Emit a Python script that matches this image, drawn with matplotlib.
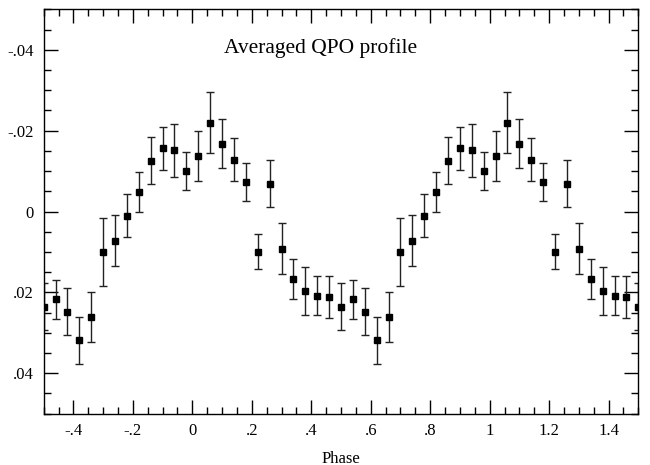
import numpy as np
import matplotlib
matplotlib.use("Agg")
import matplotlib.pyplot as plt
from matplotlib.ticker import MultipleLocator, FuncFormatter

# One cycle of the averaged profile (25 phase bins, centres 0.02 + 0.04k, starting at phase 0.50-1)
phase_cycle = [-0.50, -0.46, -0.42, -0.38, -0.34, -0.30, -0.26, -0.22, -0.18, -0.14,
               -0.10, -0.06, -0.02, 0.02, 0.06, 0.10, 0.14, 0.18, 0.22, 0.26,
               0.30, 0.34, 0.38, 0.42, 0.46]
profile = [0.0235, 0.0217, 0.0248, 0.0318, 0.0261, 0.0100, 0.0072, 0.0010, -0.0049, -0.0126,
           -0.0156, -0.0151, -0.0100, -0.0138, -0.0220, -0.0168, -0.0128, -0.0074, 0.0099, -0.0069,
           0.0092, 0.0167, 0.0196, 0.0208, 0.0211]
errors = [0.0058, 0.0048, 0.0058, 0.0058, 0.0062, 0.0084, 0.0063, 0.0053, 0.0049, 0.0059,
          0.0053, 0.0065, 0.0047, 0.0062, 0.0075, 0.0061, 0.0053, 0.0047, 0.0044, 0.0059,
          0.0063, 0.0049, 0.0060, 0.0048, 0.0052]
n_cycles_shift = [0, 1, 2]

title_text = "Averaged QPO profile"
xlabel_text = "Phase"

plt.rcParams['font.family'] = ['Liberation Serif', 'DejaVu Serif']

fig = plt.figure(figsize=(6.5, 4.65), dpi=100)
ax = fig.add_axes([0.0672, 0.1103, 0.9148, 0.8697])

xs, ys, es = [], [], []
for c in n_cycles_shift:
    for p, v, e in zip(phase_cycle, profile, errors):
        xs.append(p + c)
        ys.append(v)
        es.append(e)

ax.errorbar(xs, ys, yerr=es, fmt='s', color='black', ms=4.3, ecolor='#222222',
            elinewidth=1.0, capsize=3.0, capthick=1.0, clip_on=True)

ax.set_xlim(-0.5, 1.5)
ax.set_ylim(0.05, -0.05)

def xfmt(v, pos):
    if abs(v) < 1e-9:
        return "0"
    s = ("%.1f" % v)
    if s.startswith("0."):
        s = s[1:]
    elif s.startswith("-0."):
        s = "-" + s[2:]
    if s.endswith(".0"):
        s = s[:-2]
    return s

def yfmt(v, pos):
    if abs(v) < 1e-9:
        return "0"
    s = "%.2f" % v
    if s.startswith("0."):
        s = s[1:]
    elif s.startswith("-0."):
        s = "-" + s[2:]
    return s

ax.xaxis.set_major_locator(MultipleLocator(0.2))
ax.xaxis.set_minor_locator(MultipleLocator(0.05))
ax.yaxis.set_major_locator(MultipleLocator(0.02))
ax.yaxis.set_minor_locator(MultipleLocator(0.005))
ax.xaxis.set_major_formatter(FuncFormatter(xfmt))
ax.yaxis.set_major_formatter(FuncFormatter(yfmt))

ax.tick_params(which='both', direction='in', top=True, right=True, labelsize=12, width=1.0)
ax.tick_params(which='major', length=10, pad=7)
ax.tick_params(which='minor', length=5)
for s in ax.spines.values():
    s.set_linewidth(1.0)

ax.text(0.466, 0.905, title_text, transform=ax.transAxes, ha='center', va='center', fontsize=15.5)
ax.set_xlabel(xlabel_text, fontsize=12, labelpad=8)

fig.savefig("out.png", dpi=100)
